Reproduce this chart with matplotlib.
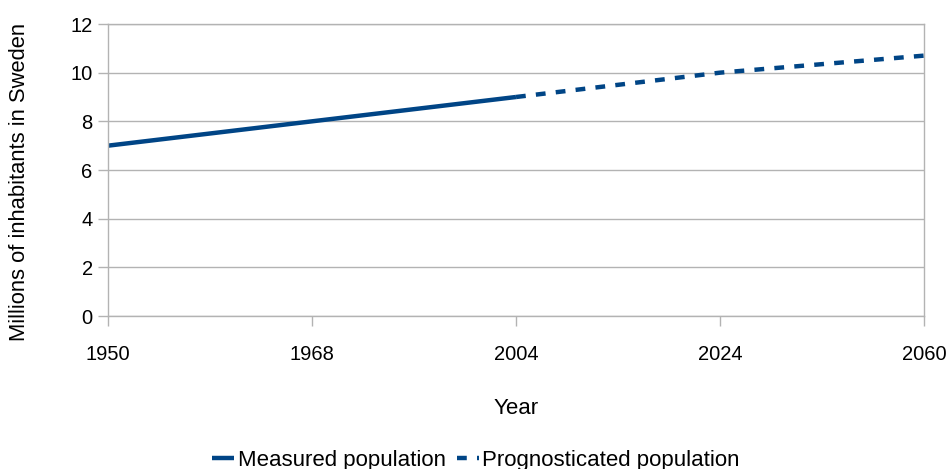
import matplotlib
matplotlib.use("Agg")
import matplotlib.pyplot as plt

plt.rcParams['font.family'] = ['Liberation Sans', 'DejaVu Sans']

years = ["1950", "1968", "2004", "2024", "2060"]
measured_years = ["1950", "1968", "2004"]
measured = [7.0, 8.0, 9.0]
forecast_years = ["2004", "2024", "2060"]
forecast = [9.0, 10.0, 10.7]

color = "#004586"
grid = "#b3b3b3"

fig = plt.figure(figsize=(9.5, 4.69), dpi=100)
ax = fig.add_axes([108/950, 1-316/469, (924-108)/950, (316-24)/469])

pos = {y: i for i, y in enumerate(years)}
ax.plot([pos[y] for y in measured_years], measured, color=color, lw=3.2,
        solid_capstyle='butt', label="Measured population")
ax.plot([pos[y] for y in forecast_years], forecast, color=color, lw=3.2,
        linestyle=(0, (2.2, 2.3)), dash_capstyle='butt',
        label="Prognosticated population")

ax.set_xlim(0, len(years) - 1)
ax.set_ylim(0, 12)
ax.set_xticks(range(len(years)))
ax.set_xticklabels(years)
ax.set_yticks(range(0, 13, 2))
ax.yaxis.grid(True, color=grid, lw=1)
ax.set_axisbelow(True)
for s in ax.spines.values():
    s.set_color(grid)
    s.set_linewidth(1)
ax.tick_params(axis='both', colors=grid, labelcolor='black', labelsize=14.5,
               length=7, width=1)
ax.tick_params(axis='x', pad=14)
ax.tick_params(axis='y', pad=4)

ax.set_xlabel("Year", fontsize=16)
ax.xaxis.set_label_coords(0.5, (316 - 408) / 292, transform=ax.transAxes)
ax.xaxis.label.set_va('center')
ax.set_ylabel("Millions of inhabitants in Sweden", fontsize=15.8)
ax.yaxis.set_label_coords((20 - 108) / 816, (316 - 182) / 292, transform=ax.transAxes)
ax.yaxis.label.set_va('center')

fig.legend(loc='center', bbox_to_anchor=(476/950, 1-460/469), ncol=2, frameon=False,
           fontsize=16, handlelength=1.0, handletextpad=0.15, columnspacing=0.5)

fig.savefig("out.png", dpi=100)
